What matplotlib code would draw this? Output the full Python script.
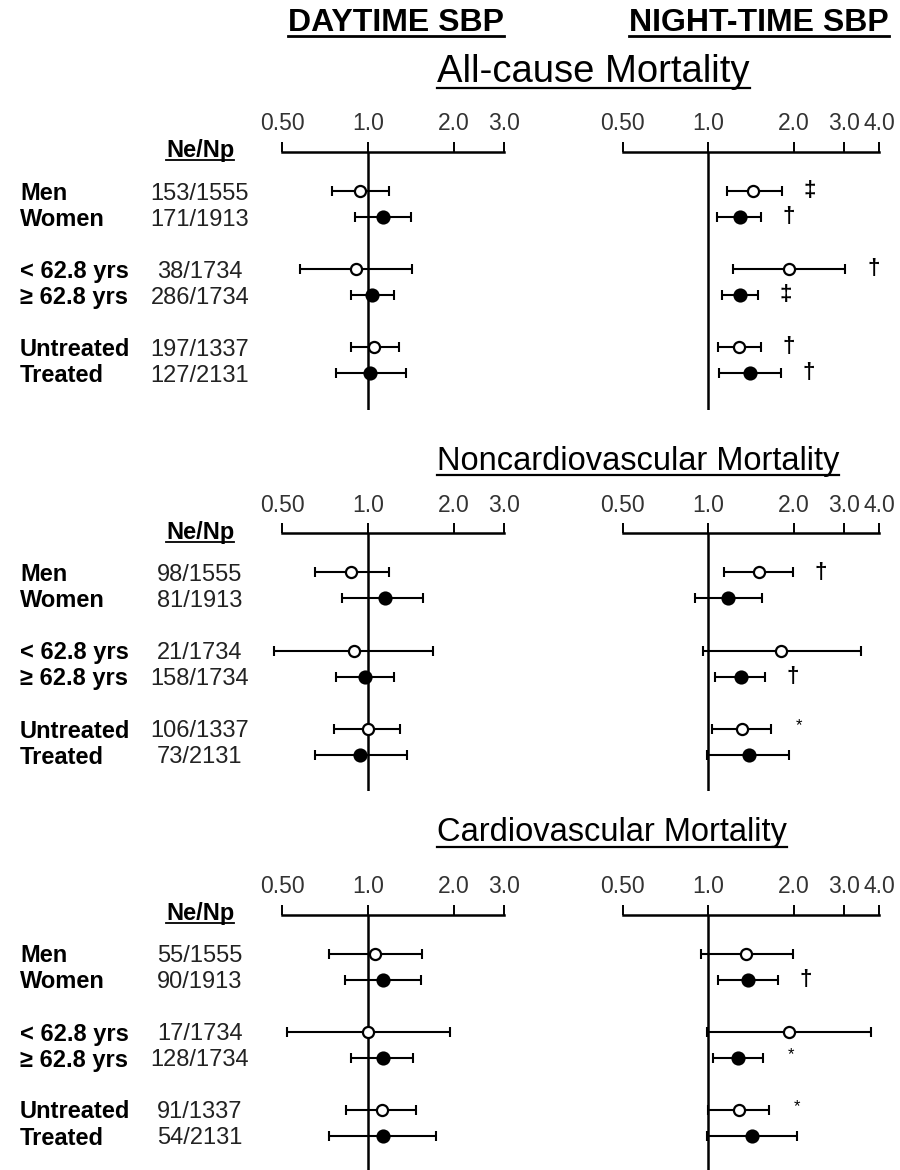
import numpy as np
import matplotlib
matplotlib.use('Agg')
import matplotlib.pyplot as plt
from matplotlib.lines import Line2D
from matplotlib.transforms import blended_transform_factory

plt.rcParams['font.family'] = 'Liberation Sans'

# ---------------- data (hazard ratios with 95% CI) ----------------
categories = ['Men', 'Women', '< 62.8 yrs', '\u2265 62.8 yrs', 'Untreated', 'Treated']
titles = ['All-cause Mortality', 'Noncardiovascular Mortality', 'Cardiovascular Mortality']

counts_all = ['153/1555', '171/1913', '38/1734', '286/1734', '197/1337', '127/2131']
counts_nc = ['98/1555', '81/1913', '21/1734', '158/1734', '106/1337', '73/2131']
counts_cv = ['55/1555', '90/1913', '17/1734', '128/1734', '91/1337', '54/2131']

# all-cause
day_hr_all = [0.94, 1.13, 0.91, 1.03, 1.05, 1.02]
day_lo_all = [0.75, 0.90, 0.58, 0.87, 0.87, 0.77]
day_hi_all = [1.18, 1.41, 1.42, 1.23, 1.28, 1.36]
night_hr_all = [1.44, 1.29, 1.93, 1.29, 1.28, 1.40]
night_lo_all = [1.16, 1.07, 1.22, 1.12, 1.08, 1.09]
night_hi_all = [1.82, 1.53, 3.04, 1.50, 1.53, 1.80]
sig_all = ['\u2021', '\u2020', '\u2020', '\u2021', '\u2020', '\u2020']

# noncardiovascular
day_hr_nc = [0.87, 1.15, 0.89, 0.98, 1.00, 0.94]
day_lo_nc = [0.65, 0.81, 0.47, 0.77, 0.76, 0.65]
day_hi_nc = [1.18, 1.56, 1.69, 1.23, 1.29, 1.37]
night_hr_nc = [1.51, 1.17, 1.81, 1.30, 1.31, 1.39]
night_lo_nc = [1.14, 0.90, 0.96, 1.06, 1.03, 0.99]
night_hi_nc = [1.99, 1.55, 3.45, 1.58, 1.66, 1.93]
sig_nc = ['\u2020', '', '', '\u2020', '*', '']

# cardiovascular
day_hr_cv = [1.06, 1.13, 1.00, 1.13, 1.12, 1.13]
day_lo_cv = [0.73, 0.83, 0.52, 0.87, 0.84, 0.73]
day_hi_cv = [1.54, 1.53, 1.94, 1.44, 1.47, 1.73]
night_hr_cv = [1.36, 1.38, 1.92, 1.27, 1.28, 1.42]
night_lo_cv = [0.94, 1.08, 0.99, 1.04, 1.00, 0.99]
night_hi_cv = [1.99, 1.76, 3.74, 1.56, 1.64, 2.06]
sig_cv = ['', '\u2020', '', '*', '*', '']

day_ticks = [0.5, 1.0, 2.0, 3.0]
day_ticklabels = ['0.50', '1.0', '2.0', '3.0']
night_ticks = [0.5, 1.0, 2.0, 3.0, 4.0]
night_ticklabels = ['0.50', '1.0', '2.0', '3.0', '4.0']

sections = [
    (titles[0], counts_all, (day_hr_all, day_lo_all, day_hi_all), (night_hr_all, night_lo_all, night_hi_all), sig_all),
    (titles[1], counts_nc, (day_hr_nc, day_lo_nc, day_hi_nc), (night_hr_nc, night_lo_nc, night_hi_nc), sig_nc),
    (titles[2], counts_cv, (day_hr_cv, day_lo_cv, day_hi_cv), (night_hr_cv, night_lo_cv, night_hi_cv), sig_cv),
]

# ---------------- layout (pixels on a 900x1170 canvas) ----------------
W, H = 900, 1170
fig = plt.figure(figsize=(W / 100, H / 100), dpi=100)


def rect(x0, x1, y0, y1):
    return [x0 / W, 1 - y1 / H, (x1 - x0) / W, (y1 - y0) / H]


row_pos = np.array([0, 1, 3, 4, 6, 7])   # pairs separated by a blank row
unit = 26.0
ylim = (8.42, -1.5)
axis_top = [152, 533.5, 914.5]
title_y = [72, 462, 833]
day_x = (260.4, 516.1)
night_x = (601.3, 888.2)
xlim_day = (0.42, 3.3)
xlim_night = (0.42, 4.3)

underline_jobs = []


def forest(ax, hr, lo, hi, ticks, labels, xlim, sig=None):
    hr, lo, hi = np.array(hr), np.array(lo), np.array(hi)
    ax.set_xscale('log')
    ax.set_xlim(*xlim)
    ax.set_ylim(*ylim)
    ax.errorbar(hr, row_pos, xerr=[hr - lo, hi - hr], fmt='none', ecolor='black',
                elinewidth=1.5, capsize=3.6, capthick=1.5, zorder=3)
    op = row_pos % 3 == 0
    ax.plot(hr[op], row_pos[op], 'o', ms=8, mfc='white', mec='black', mew=1.6, zorder=4)
    ax.plot(hr[~op], row_pos[~op], 'o', ms=9, mfc='black', mec='black', mew=1.2, zorder=4)
    ax.axvline(1.0, color='black', lw=1.8, zorder=2)
    for s in ['left', 'right', 'bottom']:
        ax.spines[s].set_visible(False)
    ax.spines['top'].set_bounds(ticks[0], ticks[-1])
    ax.spines['top'].set_linewidth(1.8)
    ax.xaxis.tick_top()
    ax.minorticks_off()
    ax.set_xticks(ticks, labels)
    ax.tick_params(axis='x', which='major', direction='out', length=7.2, width=1.4,
                   labelsize=16.5, pad=5, labelcolor='#333333')
    ax.tick_params(axis='x', which='minor', length=0)
    ax.set_yticks([])
    ax.patch.set_visible(False)
    if sig is not None:
        for s, h, y in zip(sig, hi, row_pos):
            if not s:
                continue
            if s == '*':
                ax.annotate(s, xy=(h, y), xytext=(20, 2), textcoords='offset points',
                            ha='center', va='center', fontsize=12)
            else:
                ax.annotate(s, xy=(h, y), xytext=(20, 0), textcoords='offset points',
                            ha='center', va='center', fontsize=16, fontweight='bold')


for k, (title, counts, day, night, sig) in enumerate(sections):
    top = axis_top[k]
    bot = top + (ylim[0] - ylim[1]) * unit
    ax_d = fig.add_axes(rect(day_x[0], day_x[1], top, bot))
    ax_n = fig.add_axes(rect(night_x[0], night_x[1], top, bot))
    forest(ax_d, *day, day_ticks, day_ticklabels, xlim_day)
    forest(ax_n, *night, night_ticks, night_ticklabels, xlim_night, sig)

    tr = blended_transform_factory(fig.transFigure, ax_d.transData)
    for lab, cnt, y in zip(categories, counts, row_pos):
        ax_d.text(20 / W, y, lab, transform=tr, ha='left', va='center_baseline',
                  fontsize=17, fontweight='bold')
        ax_d.text(200 / W, y, cnt, transform=tr, ha='center', va='center_baseline',
                  fontsize=17, color='#222222')
    t = ax_d.text(200 / W, -1.55, 'Ne/Np', transform=tr, ha='center', va='center',
                  fontsize=17, fontweight='bold')
    underline_jobs.append((t, 1.3))

    tsize = 27.5 if k == 0 else 23.5
    t = fig.text(437 / W, 1 - title_y[k] / H, title, ha='left', va='center', fontsize=tsize)
    underline_jobs.append((t, 1.6))

for txt, xc in [('DAYTIME SBP', 396), ('NIGHT-TIME SBP', 759)]:
    t = fig.text(xc / W, 1 - 23 / H, txt, ha='center', va='center', fontsize=23,
                 fontweight='bold')
    underline_jobs.append((t, 2.0))

# underline the headings
fig.canvas.draw()
renderer = fig.canvas.get_renderer()
inv = fig.transFigure.inverted()
for t, lw in underline_jobs:
    bb = t.get_window_extent(renderer)
    (x0, y0), (x1, _) = inv.transform([[bb.x0, bb.y0 + 2], [bb.x1, bb.y1]])
    fig.add_artist(Line2D([x0, x1], [y0, y0], transform=fig.transFigure,
                          color='black', lw=lw))

fig.savefig('out.png', dpi=100, facecolor='white')
